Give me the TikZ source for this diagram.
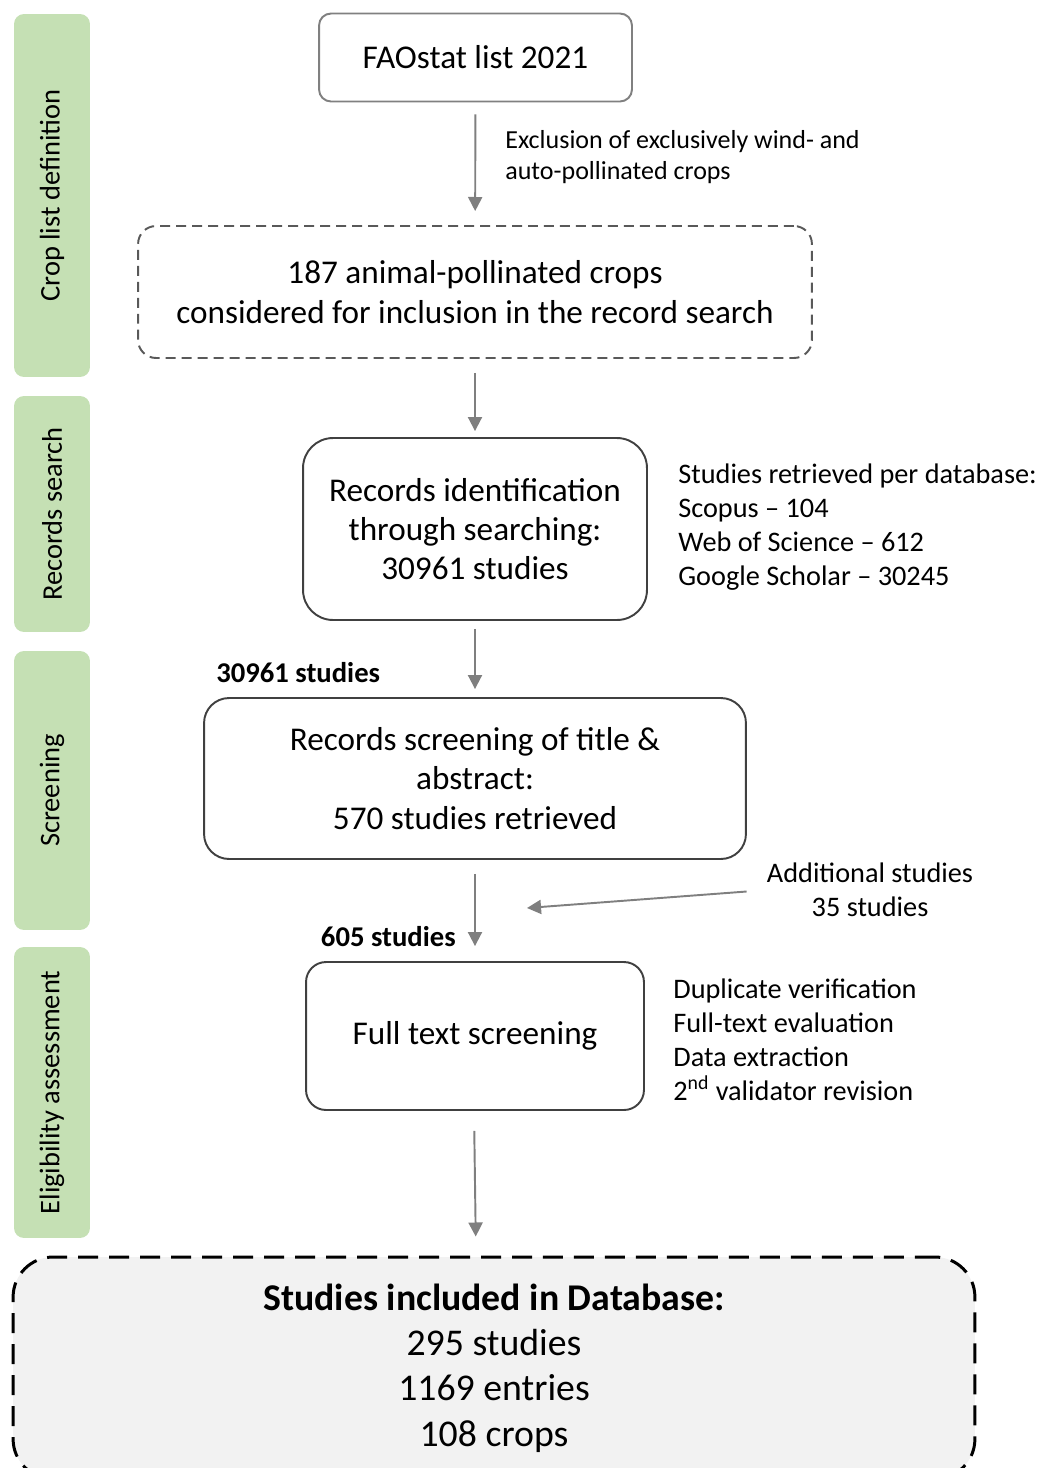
\documentclass[tikz,border=0pt]{standalone}
\usepackage{fontspec}
\setmainfont{Carlito}
\usetikzlibrary{arrows.meta}
\definecolor{barGreen}{HTML}{C5E0B4}
\definecolor{arrowGray}{HTML}{7F7F7F}
\definecolor{boxGray}{HTML}{808080}
\definecolor{boxDark}{HTML}{404040}
\definecolor{dashGray}{HTML}{595959}
\definecolor{finalFill}{HTML}{F2F2F2}

\begin{document}
\begin{tikzpicture}[x=0.02cm, y=-0.02cm,
    phase/.style={fill=barGreen, rounded corners=0.2cm, rotate=90, minimum height=1.52cm, inner sep=0pt, font=\fontsize{16.2}{19}\selectfont},
    stage/.style={draw=boxDark, line width=1.1pt, align=center, font=\fontsize{18.9}{22.4}\selectfont},
    note/.style={align=left, inner sep=0pt, font=\fontsize{16.1}{19.3}\selectfont},
    count/.style={inner sep=0pt, font=\fontsize{16.3}{18}\selectfont\bfseries},
    flow/.style={draw=arrowGray, line width=1.1pt, -{Triangle[width=8pt,length=8pt]}}]
    \useasboundingbox (0,0) rectangle (1039,1468);

    % phases on the left
    \node[phase, minimum width=7.26cm] (pcrop) at (52,195.5) {Crop list definition};
    \node[phase, minimum width=4.72cm] (psearch) at (52,514) {Records search};
    \node[phase, minimum width=5.58cm] (pscreen) at (52,790.5) {Screening};
    \node[phase, minimum width=5.82cm] (pelig) at (52,1092.5) {Eligibility assessment};

    % main flow
    \node[stage, draw=boxGray, rounded corners=0.24cm, minimum width=6.26cm, minimum height=1.76cm] (fao) at (475.5,57.5) {FAOstat list 2021};
    \node[stage, draw=dashGray, dash pattern=on 0.2cm off 0.12cm, rounded corners=0.36cm, minimum width=13.48cm, minimum height=2.64cm] (candid) at (475,292) {187 animal-pollinated crops\\considered for inclusion in the record search};
    \node[stage, rounded corners=0.6cm, minimum width=6.88cm, minimum height=3.64cm] (ident) at (475,529) {Records identification\\through searching:\\30961 studies};
    \node[stage, rounded corners=0.5cm, minimum width=10.84cm, minimum height=3.22cm] (screen) at (475,778.5) {Records screening of title \&\\abstract:\\570 studies retrieved};
    \node[stage, rounded corners=0.4cm, minimum width=6.76cm, minimum height=2.96cm] (fulltext) at (475,1036) {\raisebox{-0.15em}{Full text screening}};
    \node[draw=black, line width=1.7pt, dash pattern=on 0.4cm off 0.22cm, fill=finalFill, rounded corners=0.8cm, align=center, minimum width=19.24cm, minimum height=4.44cm, font=\fontsize{21.5}{25.8}\selectfont] (final) at (494,1368) {\textbf{Studies included in Database:}\\295 studies\\1169 entries\\108 crops};

    % side notes
    \node[note, font=\fontsize{14.8}{18.1}\selectfont, anchor=west] (excl) at (505,157) {Exclusion of exclusively wind- and\\auto-pollinated crops};
    \node[note, anchor=west] (dbs) at (678,527) {Studies retrieved per database:\\Scopus -- 104\\Web of Science -- 612\\Google Scholar -- 30245};
    \node[note, align=center] (add) at (870,890) {Additional studies\\35 studies};
    \node[note, anchor=west] (checks) at (673,1040) {Duplicate verification\\Full-text evaluation\\Data extraction\\2\textsuperscript{nd} validator revision};
    \node[count, anchor=west] (n1) at (216,673) {30961 studies};
    \node[count, anchor=east] (n2) at (456,937) {605 studies};
    \coordinate (join) at (527,908);

    % arrows
    \draw[flow, shorten <=0.24cm, shorten >=0.28cm] (fao) -- (candid);
    \draw[flow, shorten <=0.28cm, shorten >=0.12cm] (candid) -- (ident);
    \draw[flow, shorten <=0.16cm, shorten >=0.16cm] (ident) -- (screen);
    \draw[flow, shorten <=0.28cm, shorten >=0.3cm] (screen) -- (fulltext);
    \draw[flow, shorten <=0.4cm, shorten >=0.38cm] (fulltext.south -| 474,0) -- (final.north -| 476,0);
    \draw[flow, shorten <=0.4cm] (add.west) -- (join);
\end{tikzpicture}
\end{document}
